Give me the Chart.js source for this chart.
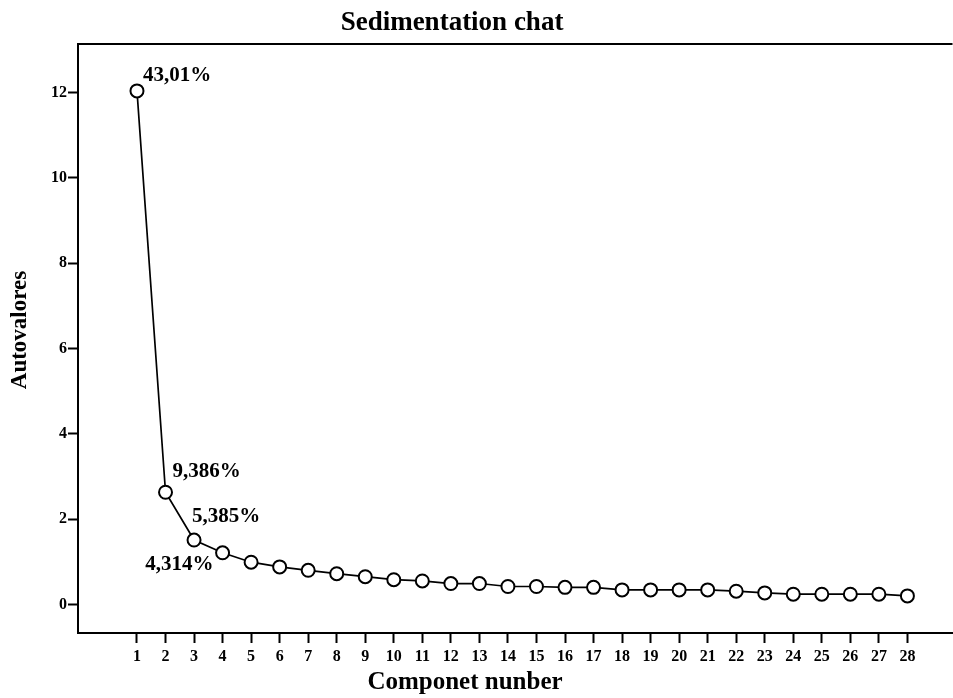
<!DOCTYPE html>
<html>
<head>
<meta charset="utf-8">
<title>Sedimentation chat</title>
<script src="https://cdn.jsdelivr.net/npm/chart.js@4.4.1/dist/chart.umd.min.js"></script>
<style>
  html, body { margin: 0; background: #fff; overflow: hidden; }
  #wrap { width: 961px; height: 698px; position: relative; }
</style>
</head>
<body>
<div id="wrap"><canvas id="chart"></canvas></div>
<script>
'use strict';
// data
var components = [1, 2, 3, 4, 5, 6, 7, 8, 9, 10, 11, 12, 13, 14, 15, 16, 17, 18, 19, 20, 21, 22, 23, 24, 25, 26, 27, 28];
var eigenValues = [12.04, 2.63, 1.51, 1.21, 0.99, 0.88, 0.80, 0.72, 0.65, 0.58, 0.55, 0.49, 0.49, 0.42, 0.42, 0.40, 0.40, 0.34, 0.34, 0.34, 0.34, 0.31, 0.27, 0.24, 0.24, 0.24, 0.24, 0.20];
var yTickValues = [0, 2, 4, 6, 8, 10, 12];
var percentLabels = ['43,01%', '9,386%', '5,385%', '4,314%'];

var chartTitle = 'Sedimentation chat';
var xTitle = 'Componet nunber';
var yTitle = 'Autovalores';

var serif = '"Liberation Serif", "Times New Roman", serif';

// points for the linear x scale
var points = [];
for (var i = 0; i < components.length; i++) {
  points.push({ x: components[i], y: eigenValues[i] });
}

// top frame line, titles and percent labels
var extrasPlugin = {
  id: 'extras',
  afterDraw: function (chart) {
    var ctx = chart.ctx;
    var area = chart.chartArea;
    var xs = chart.scales.x;
    var ys = chart.scales.y;
    ctx.save();
    ctx.strokeStyle = '#000';
    ctx.lineWidth = 2;
    ctx.beginPath();
    ctx.moveTo(area.left - 1, area.top);
    ctx.lineTo(area.right, area.top);
    ctx.stroke();

    ctx.fillStyle = '#000';
    ctx.textBaseline = 'alphabetic';
    ctx.textAlign = 'center';
    ctx.font = 'bold 27px ' + serif;
    ctx.fillText(chartTitle, 452, 30);
    ctx.font = 'bold 25px ' + serif;
    ctx.fillText(xTitle, 465, 689);

    // y title, rotated
    ctx.save();
    ctx.translate(20, 330);
    ctx.rotate(-Math.PI / 2);
    ctx.textBaseline = 'middle';
    ctx.font = 'bold 23px ' + serif;
    ctx.fillText(yTitle, 0, 0);
    ctx.restore();

    // label offsets from their points
    var offs = [[6, -10, 'left'], [7, -15, 'left'], [-2, -18, 'left'], [-9, 17, 'right']];
    ctx.font = 'bold 21px ' + serif;
    for (var k = 0; k < percentLabels.length; k++) {
      var px = xs.getPixelForValue(components[k]);
      var py = ys.getPixelForValue(eigenValues[k]);
      ctx.textAlign = offs[k][2];
      ctx.fillText(percentLabels[k], px + offs[k][0], py + offs[k][1]);
    }
    ctx.restore();
  }
};

var placeOfChart = document.getElementById('chart').getContext('2d');
var chart = new Chart(placeOfChart, {
  type: 'line',
  data: {
    datasets: [{
      data: points,
      borderColor: '#000',
      borderWidth: 1.7,
      pointRadius: 6.5,
      pointBorderWidth: 2,
      pointBorderColor: '#000',
      pointBackgroundColor: '#fff',
      tension: 0
    }]
  },
  options: {
    responsive: true,
    maintainAspectRatio: false,
    animation: false,
    layout: { padding: { top: 44, left: 0, right: 0, bottom: 0 } },
    plugins: {
      legend: { display: false },
      tooltip: { enabled: false }
    },
    scales: {
      x: {
        type: 'linear',
        min: -1.067,
        max: 29.58,
        afterBuildTicks: function (scale) {
          scale.ticks = components.map(function (v) { return { value: v }; });
        },
        afterFit: function (scale) { scale.height = 65; },
        grid: { drawOnChartArea: false, drawTicks: true, tickLength: 10, tickWidth: 2, color: '#000' },
        border: { display: true, width: 2, color: '#000' },
        ticks: {
          color: '#000',
          padding: 4,
          maxRotation: 0,
          autoSkip: false,
          font: { family: serif, size: 16, weight: 'bold' }
        }
      },
      y: {
        type: 'linear',
        min: -0.67,
        max: 13.14,
        afterBuildTicks: function (scale) {
          scale.ticks = yTickValues.map(function (v) { return { value: v }; });
        },
        afterFit: function (scale) { scale.width = 78; },
        grid: { drawOnChartArea: false, drawTicks: true, tickLength: 10, tickWidth: 2, color: '#000' },
        border: { display: true, width: 2, color: '#000' },
        ticks: {
          color: '#000',
          padding: 1,
          font: { family: serif, size: 16, weight: 'bold' }
        }
      }
    }
  },
  plugins: [extrasPlugin]
});
</script>
</body>
</html>
